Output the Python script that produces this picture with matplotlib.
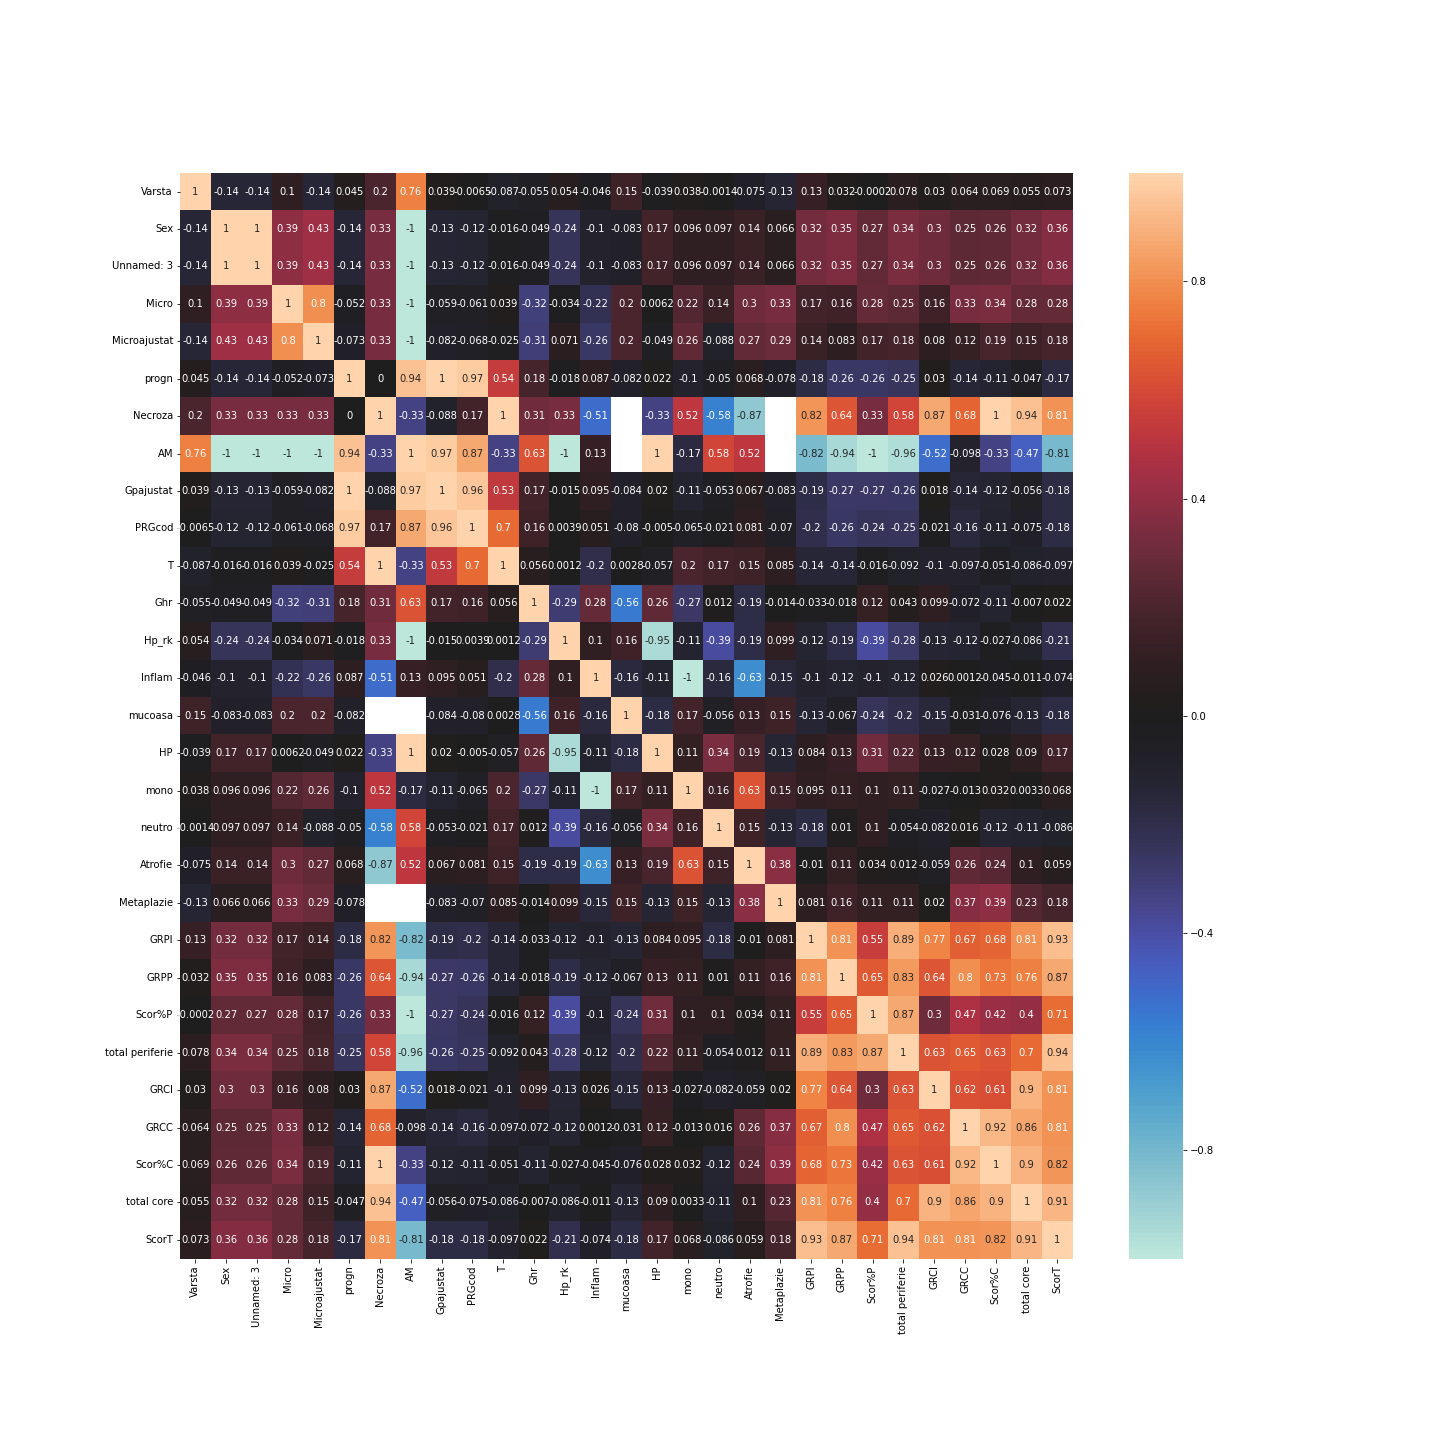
import numpy as np
import pandas as pd
import matplotlib
matplotlib.use("Agg")
import matplotlib.pyplot as plt
import seaborn as sns

nan = np.nan

labels = ["Varsta", "Sex", "Unnamed: 3", "Micro", "Microajustat", "progn", "Necroza",
          "AM", "Gpajustat", "PRGcod", "T", "Ghr", "Hp_rk", "Inflam", "mucoasa", "HP",
          "mono", "neutro", "Atrofie", "Metaplazie", "GRPI", "GRPP", "Scor%P",
          "total periferie", "GRCI", "GRCC", "Scor%C", "total core", "ScorT"]

cbar_ticks = [-0.8, -0.4, 0.0, 0.4, 0.8]

# upper triangle of the correlation matrix, row i starts at column i
upper = [
    [1, -0.14, -0.14, 0.1, -0.14, 0.045, 0.2, 0.76, 0.039, -0.0065, -0.087, -0.055, 0.054, -0.046, 0.15,
     -0.039, 0.038, -0.0014, -0.075, -0.13, 0.13, 0.032, -0.0002, 0.078, 0.03, 0.064, 0.069, 0.055, 0.073],
    [1, 1, 0.39, 0.43, -0.14, 0.33, -1, -0.13, -0.12, -0.016, -0.049, -0.24, -0.1, -0.083, 0.17, 0.096,
     0.097, 0.14, 0.066, 0.32, 0.35, 0.27, 0.34, 0.3, 0.25, 0.26, 0.32, 0.36],
    [1, 0.39, 0.43, -0.14, 0.33, -1, -0.13, -0.12, -0.016, -0.049, -0.24, -0.1, -0.083, 0.17, 0.096,
     0.097, 0.14, 0.066, 0.32, 0.35, 0.27, 0.34, 0.3, 0.25, 0.26, 0.32, 0.36],
    [1, 0.8, -0.052, 0.33, -1, -0.059, -0.061, 0.039, -0.32, -0.034, -0.22, 0.2, 0.0062, 0.22, 0.14,
     0.3, 0.33, 0.17, 0.16, 0.28, 0.25, 0.16, 0.33, 0.34, 0.28, 0.28],
    [1, -0.073, 0.33, -1, -0.082, -0.068, -0.025, -0.31, 0.071, -0.26, 0.2, -0.049, 0.26, -0.088,
     0.27, 0.29, 0.14, 0.083, 0.17, 0.18, 0.08, 0.12, 0.19, 0.15, 0.18],
    [1, 0, 0.94, 1, 0.97, 0.54, 0.18, -0.018, 0.087, -0.082, 0.022, -0.1, -0.05, 0.068, -0.078,
     -0.18, -0.26, -0.26, -0.25, 0.03, -0.14, -0.11, -0.047, -0.17],
    [1, -0.33, -0.088, 0.17, 1, 0.31, 0.33, -0.51, nan, -0.33, 0.52, -0.58, -0.87, nan,
     0.82, 0.64, 0.33, 0.58, 0.87, 0.68, 1, 0.94, 0.81],
    [1, 0.97, 0.87, -0.33, 0.63, -1, 0.13, nan, 1, -0.17, 0.58, 0.52, nan,
     -0.82, -0.94, -1, -0.96, -0.52, -0.098, -0.33, -0.47, -0.81],
    [1, 0.96, 0.53, 0.17, -0.015, 0.095, -0.084, 0.02, -0.11, -0.053, 0.067, -0.083,
     -0.19, -0.27, -0.27, -0.26, 0.018, -0.14, -0.12, -0.056, -0.18],
    [1, 0.7, 0.16, 0.0039, 0.051, -0.08, -0.005, -0.065, -0.021, 0.081, -0.07,
     -0.2, -0.26, -0.24, -0.25, -0.021, -0.16, -0.11, -0.075, -0.18],
    [1, 0.056, 0.0012, -0.2, 0.0028, -0.057, 0.2, 0.17, 0.15, 0.085,
     -0.14, -0.14, -0.016, -0.092, -0.1, -0.097, -0.051, -0.086, -0.097],
    [1, -0.29, 0.28, -0.56, 0.26, -0.27, 0.012, -0.19, -0.014,
     -0.033, -0.018, 0.12, 0.043, 0.099, -0.072, -0.11, -0.007, 0.022],
    [1, 0.1, 0.16, -0.95, -0.11, -0.39, -0.19, 0.099,
     -0.12, -0.19, -0.39, -0.28, -0.13, -0.12, -0.027, -0.086, -0.21],
    [1, -0.16, -0.11, -1, -0.16, -0.63, -0.15,
     -0.1, -0.12, -0.1, -0.12, 0.026, 0.0012, -0.045, -0.011, -0.074],
    [1, -0.18, 0.17, -0.056, 0.13, 0.15,
     -0.13, -0.067, -0.24, -0.2, -0.15, -0.031, -0.076, -0.13, -0.18],
    [1, 0.11, 0.34, 0.19, -0.13, 0.084, 0.13, 0.31, 0.22, 0.13, 0.12, 0.028, 0.09, 0.17],
    [1, 0.16, 0.63, 0.15, 0.095, 0.11, 0.1, 0.11, -0.027, -0.013, 0.032, 0.0033, 0.068],
    [1, 0.15, -0.13, -0.18, 0.01, 0.1, -0.054, -0.082, 0.016, -0.12, -0.11, -0.086],
    [1, 0.38, -0.01, 0.11, 0.034, 0.012, -0.059, 0.26, 0.24, 0.1, 0.059],
    [1, 0.081, 0.16, 0.11, 0.11, 0.02, 0.37, 0.39, 0.23, 0.18],
    [1, 0.81, 0.55, 0.89, 0.77, 0.67, 0.68, 0.81, 0.93],
    [1, 0.65, 0.83, 0.64, 0.8, 0.73, 0.76, 0.87],
    [1, 0.87, 0.3, 0.47, 0.42, 0.4, 0.71],
    [1, 0.63, 0.65, 0.63, 0.7, 0.94],
    [1, 0.62, 0.61, 0.9, 0.81],
    [1, 0.92, 0.86, 0.81],
    [1, 0.9, 0.82],
    [1, 0.91],
    [1],
]

n = len(labels)
corr = np.full((n, n), nan)
for i, row in enumerate(upper):
    assert len(row) == n - i, (i, len(row))
    corr[i, i:] = row
    corr[i:, i] = row
corr = pd.DataFrame(corr, index=labels, columns=labels)

fig = plt.figure(figsize=(20, 20), dpi=72)
fig.subplots_adjust(left=0.125, right=0.9, top=0.88, bottom=0.126)
ax = fig.add_subplot(111)
sns.heatmap(corr, annot=True, center=0, ax=ax, cbar_kws={"ticks": cbar_ticks})

plt.savefig("out.png", dpi=72)
